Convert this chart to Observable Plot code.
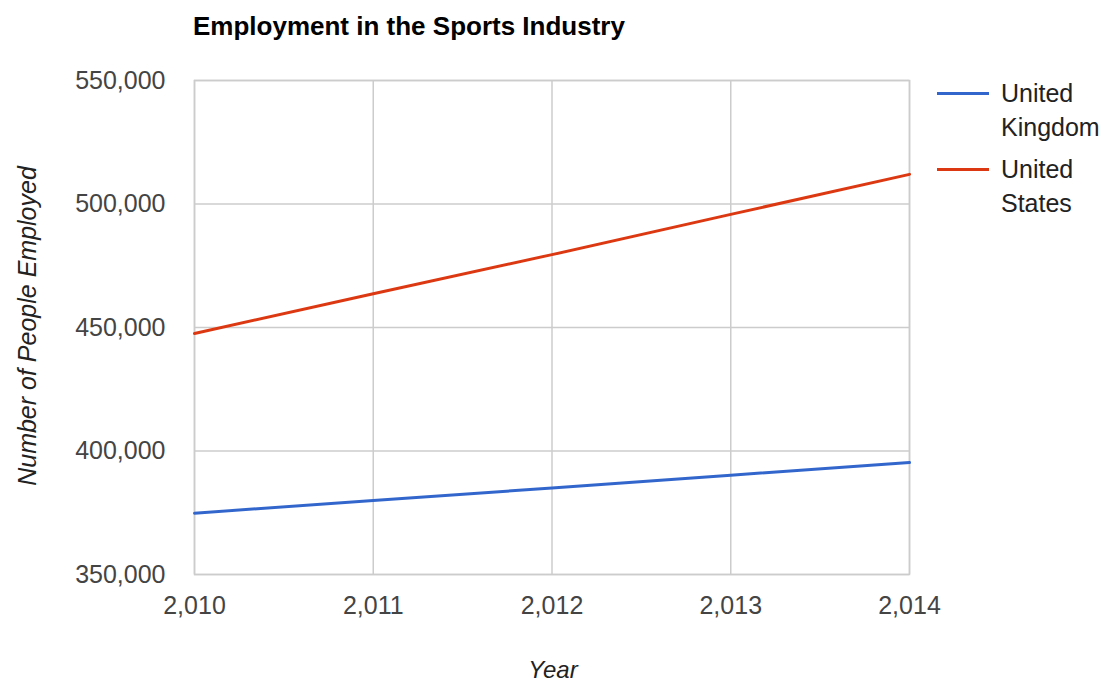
<!DOCTYPE html>
<html>
<head>
<meta charset="utf-8">
<script src="https://cdn.jsdelivr.net/npm/d3@7"></script>
<script src="https://cdn.jsdelivr.net/npm/@observablehq/plot@0.6"></script>
<style>
  body { margin: 0; background: #fff; font-family: "Liberation Sans", Arial, sans-serif; }
  #wrap { position: relative; width: 1113px; height: 684px; overflow: hidden; }
  .ov { position: absolute; white-space: nowrap; line-height: 1; }
  #title { left: 193px; top: 13px; font-size: 26px; font-weight: bold; color: #000; }
  #ylab { left: 27px; top: 326px; font-size: 25px; font-style: italic; color: #222; transform: translate(-50%, -50%) rotate(-90deg); }
  #xlab { left: 553px; top: 670px; font-size: 24px; font-style: italic; color: #222; transform: translate(-50%, -50%); }
  .leg { position: absolute; left: 937px; display: flex; align-items: flex-start; font-size: 25px; color: #222; }
  .leg .sw { width: 52px; height: 3px; margin-top: 15.5px; margin-right: 12px; }
  .leg .tx { line-height: 34px; }
</style>
</head>
<body>
<div id="wrap"></div>
<script>
const years = [2010, 2011, 2012, 2013, 2014];
const seriesNames = ["United Kingdom", "United States"];
const ukValues = [374800, 380000, 385000, 390200, 395300];
const usValues = [447600, 463700, 479500, 495800, 512000];
const yTicks = [350000, 400000, 450000, 500000, 550000];
const colors = ["#3366cc", "#dc3912"];

const data = [];
years.forEach((yr, i) => {
  data.push({year: yr, value: ukValues[i], series: seriesNames[0]});
  data.push({year: yr, value: usValues[i], series: seriesNames[1]});
});

const fmt = d3.format(",");
const chart = Plot.plot({
  width: 1113,
  height: 684,
  marginLeft: 194,
  marginRight: 204,
  marginTop: 80,
  marginBottom: 110,
  style: {fontFamily: "'Liberation Sans', Arial, sans-serif", fontSize: "25px", color: "#444", background: "#fff"},
  x: {domain: [2010, 2014], ticks: years},
  y: {domain: [350000, 550000], ticks: yTicks},
  color: {domain: seriesNames, range: colors},
  marks: [
    Plot.gridX(years, {stroke: "#cccccc", strokeOpacity: 1, strokeWidth: 1.5}),
    Plot.gridY(yTicks, {stroke: "#cccccc", strokeOpacity: 1, strokeWidth: 1.5}),
    Plot.frame({stroke: "#cccccc", strokeWidth: 1.5}),
    Plot.axisX(years, {tickSize: 0, tickPadding: 22, tickFormat: fmt, label: null, fill: "#444"}),
    Plot.axisY(yTicks, {tickSize: 0, tickPadding: 29, tickFormat: fmt, label: null, fill: "#444"}),
    Plot.line(data, {x: "year", y: "value", z: "series", stroke: "series", strokeWidth: 3})
  ]
});

const wrap = document.getElementById("wrap");
wrap.appendChild(chart);

function addDiv(id, text) {
  const d = document.createElement("div");
  d.className = "ov";
  d.id = id;
  d.textContent = text;
  wrap.appendChild(d);
}
addDiv("title", "Employment in the Sports Industry");
addDiv("ylab", "Number of People Employed");
addDiv("xlab", "Year");

const legendTops = [76, 152];
const legendLines = [["United", "Kingdom"], ["United", "States"]];
seriesNames.forEach((name, i) => {
  const item = document.createElement("div");
  item.className = "leg";
  item.style.top = legendTops[i] + "px";
  const sw = document.createElement("div");
  sw.className = "sw";
  sw.style.background = colors[i];
  const tx = document.createElement("div");
  tx.className = "tx";
  tx.innerHTML = legendLines[i].join("<br>");
  item.appendChild(sw);
  item.appendChild(tx);
  wrap.appendChild(item);
});
</script>
</body>
</html>
